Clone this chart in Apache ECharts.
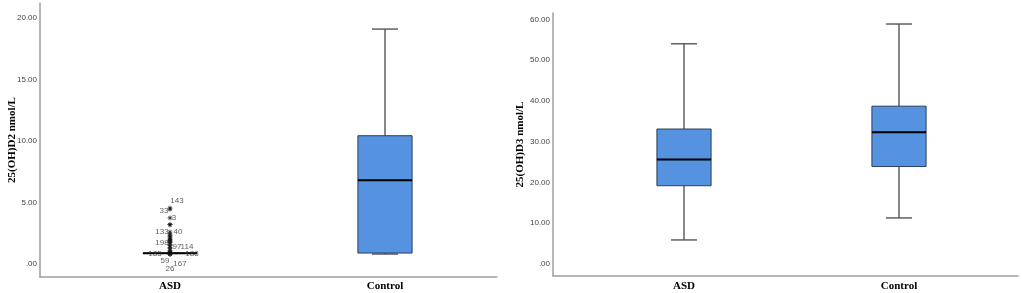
<!DOCTYPE html>
<html>
<head>
<meta charset="utf-8">
<script src="https://cdn.jsdelivr.net/npm/echarts@6/dist/echarts.min.js"></script>
<style>
html,body{margin:0;padding:0;background:#fff;}
#c{width:1022px;height:293px;}
</style>
</head>
<body>
<div id="c"></div>
<script>
// ---- data ----
const categories = ['ASD', 'Control'];
// [min, Q1, median, Q3, max]
const d2Stats = [
  [0.88, 0.88, 0.88, 0.88, 0.88],
  [0.81, 0.89, 6.80, 10.43, 19.10]
];
const d3Stats = [
  [5.9, 19.2, 25.6, 33.1, 54.0],
  [11.3, 23.9, 32.3, 38.7, 58.85]
];
// labelled outliers of 25(OH)D2 in ASD: [case id, value]
const d2Outliers = [
  ['143', 4.55], ['33', 4.45], ['3', 3.75], ['133', 3.2], ['40', 3.2],
  ['198', 2.1], ['97', 1.85], ['114', 1.85], ['185', 0.9], ['188', 0.9],
  ['59', 0.82], ['167', 0.8], ['26', 0.8]
];
// unlabelled, overlapping outliers (stacked bar of stars)
const d2OutliersExtra = [2.6, 2.45, 2.3, 2.2, 2.0, 1.9, 1.75, 1.6, 1.5, 1.35, 1.25, 1.1, 1.0];
const d2Ticks = [0, 5, 10, 15, 20];
const d3Ticks = [0, 10, 20, 30, 40, 50, 60];

// ---- styling ----
const labelOffsets = {
  '143': [7, -7], '33': [-6, 2], '3': [4, 0], '133': [-8, 7], '40': [8, 7],
  '198': [-8, 5], '97': [7, 6], '114': [17, 6], '185': [-15, 1], '188': [22, 1],
  '59': [-5, 7], '167': [10, 10], '26': [0, 15]
};
const boxFill = '#5592e0';
const axisColor = '#9e9e9e';
const tickFmt = v => v === 0 ? '.00' : v.toFixed(2);
const asterisk = 'path://M4.3,0h1.4v10h-1.4z M0,4.3h10v1.4h-10z M1.2,2.2l1-1l6.6,6.6l-1,1z M7.8,1.2l1,1l-6.6,6.6l-1,-1z';

function renderBox(params, api) {
  const x = api.value(0);
  const mn = api.value(1), q1 = api.value(2), md = api.value(3), q3 = api.value(4), mx = api.value(5);
  const bw = api.size([1, 0])[0] * 0.252;
  const capW = bw * 0.48;
  const pMin = api.coord([x, mn]), pQ1 = api.coord([x, q1]), pMd = api.coord([x, md]);
  const pQ3 = api.coord([x, q3]), pMax = api.coord([x, mx]);
  const cx = pMd[0];
  const wStyle = { stroke: '#555', lineWidth: 1.4 };
  const children = [];
  if (mx > q3) {
    children.push({ type: 'line', shape: { x1: cx, y1: pQ3[1], x2: cx, y2: pMax[1] }, style: wStyle });
    children.push({ type: 'line', shape: { x1: cx - capW / 2, y1: pMax[1], x2: cx + capW / 2, y2: pMax[1] }, style: wStyle });
  }
  if (mn < q1) {
    children.push({ type: 'line', shape: { x1: cx, y1: pQ1[1], x2: cx, y2: pMin[1] }, style: wStyle });
    children.push({ type: 'line', shape: { x1: cx - capW / 2, y1: pMin[1], x2: cx + capW / 2, y2: pMin[1] }, style: wStyle });
  } else if (mn === q1 && q1 !== q3) {
    children.push({ type: 'line', shape: { x1: cx - capW / 2, y1: pMin[1] + 1, x2: cx + capW / 2, y2: pMin[1] + 1 }, style: { stroke: '#333', lineWidth: 1.4 } });
  }
  children.push({ type: 'rect', shape: { x: cx - bw / 2, y: pQ3[1], width: bw, height: pQ1[1] - pQ3[1] },
    style: { fill: boxFill, stroke: '#2d3f5a', lineWidth: 1 } });
  children.push({ type: 'line', shape: { x1: cx - bw / 2, y1: pMd[1], x2: cx + bw / 2, y2: pMd[1] },
    style: { stroke: '#000', lineWidth: 2 } });
  return { type: 'group', children };
}

const boxData = stats => stats.map((s, i) => [i].concat(s));

const chart = echarts.init(document.getElementById('c'), null, { renderer: 'canvas' });

const grids = [
  { left: 40, top: 3, width: 457, height: 274 },
  { left: 62.5, top: 3, width: 430, height: 274 },
  { left: 553, top: 13, width: 465, height: 263 },
  { left: 576.5, top: 13, width: 430, height: 263 }
];
const yRanges = [[-1.057, 21.22], [-1.057, 21.22], [-2.94, 61.55], [-2.94, 61.55]];

const xAxes = grids.map((g, i) => ({
  type: 'category', gridIndex: i, data: categories,
  axisLine: { show: i % 2 === 0, onZero: false, lineStyle: { color: axisColor, width: 1.5 } },
  axisTick: { show: false },
  axisLabel: { show: i % 2 === 1, margin: i < 2 ? 4 : 5, color: '#000',
    fontFamily: 'Liberation Serif', fontWeight: 'bold', fontSize: 11 }
}));
const yAxes = grids.map((g, i) => {
  const ticks = i < 2 ? d2Ticks : d3Ticks;
  return {
    type: 'value', gridIndex: i, min: yRanges[i][0], max: yRanges[i][1],
    show: i % 2 === 0,
    name: i === 0 ? '25(OH)D2 nmol/L' : '25(OH)D3 nmol/L',
    nameLocation: 'middle', nameGap: i === 0 ? 22 : 27, nameRotate: 90,
    nameMoveOverlap: false,
    nameTextStyle: { fontFamily: 'Liberation Serif', fontWeight: 'bold', fontSize: 11, color: '#000' },
    axisLine: { show: true, onZero: false, lineStyle: { color: axisColor, width: 1.5 } },
    axisTick: { show: false },
    splitLine: { show: false },
    axisLabel: { customValues: ticks, formatter: tickFmt, margin: 3, color: '#444',
      fontFamily: 'Liberation Sans', fontSize: 8 }
  };
});

const outlierPoints = d2Outliers.map(([id, v]) => ({
  name: id, value: [0, v],
  label: { show: true, formatter: id, offset: labelOffsets[id] }
})).concat(d2OutliersExtra.map(v => ({ name: '', value: [0, v], label: { show: false } })));

chart.setOption({
  animation: false,
  backgroundColor: '#fff',
  grid: grids,
  xAxis: xAxes,
  yAxis: yAxes,
  series: [
    { type: 'custom', xAxisIndex: 1, yAxisIndex: 1, renderItem: renderBox,
      data: boxData(d2Stats), encode: { x: 0, y: [1, 2, 3, 4, 5] }, z: 2 },
    { type: 'custom', xAxisIndex: 3, yAxisIndex: 3, renderItem: renderBox,
      data: boxData(d3Stats), encode: { x: 0, y: [1, 2, 3, 4, 5] }, z: 2 },
    { type: 'scatter', xAxisIndex: 1, yAxisIndex: 1, symbol: asterisk, symbolSize: 5,
      itemStyle: { color: '#111' }, z: 3,
      label: { position: 'inside', color: '#333', fontFamily: 'Liberation Sans', fontSize: 8 },
      data: outlierPoints }
  ]
});
</script>
</body>
</html>
